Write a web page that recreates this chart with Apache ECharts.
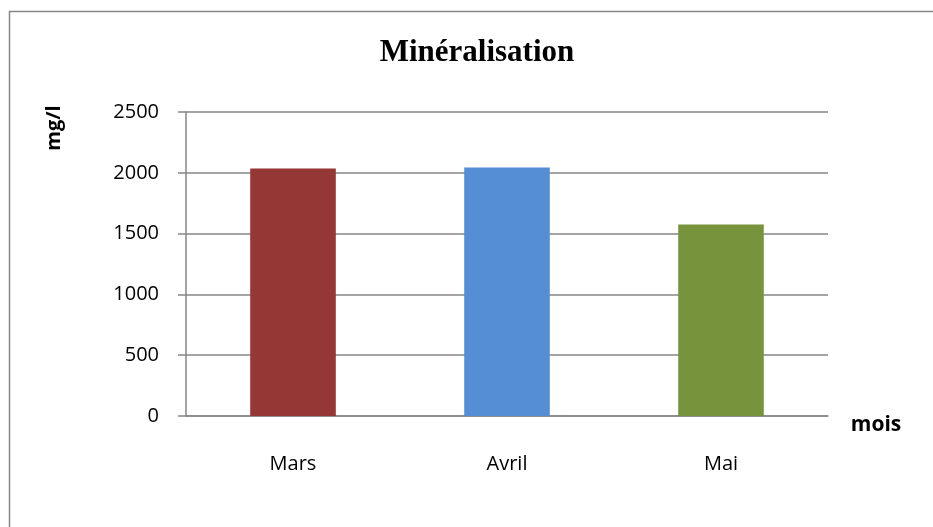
<!DOCTYPE html>
<html>
<head>
<meta charset="utf-8">
<script src="https://cdn.jsdelivr.net/npm/echarts@6/dist/echarts.min.js"></script>
<style>
  html, body { margin: 0; padding: 0; background: #fff; }
  #chart { width: 933px; height: 527px; }
</style>
</head>
<body>
<div id="chart"></div>
<script>
// mois et minéralisation (mg/l)
const months = ['Mars', 'Avril', 'Mai'];
const mineralisation = [2035, 2044, 1574];
const barColors = ['#953735', '#558ED5', '#77933C'];

const chart = echarts.init(document.getElementById('chart'));

chart.setOption({
  animation: false,
  backgroundColor: '#fff',
  grid: { left: 186, right: 105, top: 112, bottom: 111 },
  graphic: [
    // cadre du graphique
    {
      type: 'rect', left: 7, top: 9,
      shape: { width: 960, height: 540 },
      style: { fill: 'none', stroke: '#868686', lineWidth: 1.5 }
    },
    {
      type: 'text', x: 477, y: 53,
      style: {
        text: 'Minéralisation', align: 'center', verticalAlign: 'middle',
        font: 'bold 31px "Liberation Serif"', fill: '#000'
      }
    },
    {
      type: 'text', x: 54, y: 128, rotation: Math.PI / 2,
      style: {
        text: 'mg/l', align: 'center', verticalAlign: 'middle',
        font: 'bold 20px "Open Sans"', fill: '#000'
      }
    },
    {
      type: 'text', x: 876, y: 425,
      style: {
        text: 'mois', align: 'center', verticalAlign: 'middle',
        font: 'bold 21px "Open Sans"', fill: '#000'
      }
    }
  ],
  xAxis: {
    type: 'category',
    data: months,
    axisLine: { lineStyle: { color: '#868686', width: 1.5 } },
    axisTick: { show: false },
    axisLabel: { color: '#000', fontSize: 20, fontFamily: 'Open Sans', margin: 38 }
  },
  yAxis: {
    type: 'value',
    min: 0, max: 2500, interval: 500,
    axisLine: { show: true, lineStyle: { color: '#868686', width: 1.5 } },
    axisTick: { show: true, length: 8, lineStyle: { color: '#868686', width: 1.5 } },
    axisLabel: {
      color: '#000', fontSize: 20, fontFamily: 'Open Sans', margin: 27,
      formatter: v => String(v)
    },
    splitLine: { lineStyle: { color: '#868686', width: 1.5 } }
  },
  series: [{
    type: 'bar',
    data: mineralisation.map((v, i) => ({ value: v, itemStyle: { color: barColors[i] } })),
    barWidth: '40%'
  }]
});
</script>
</body>
</html>
